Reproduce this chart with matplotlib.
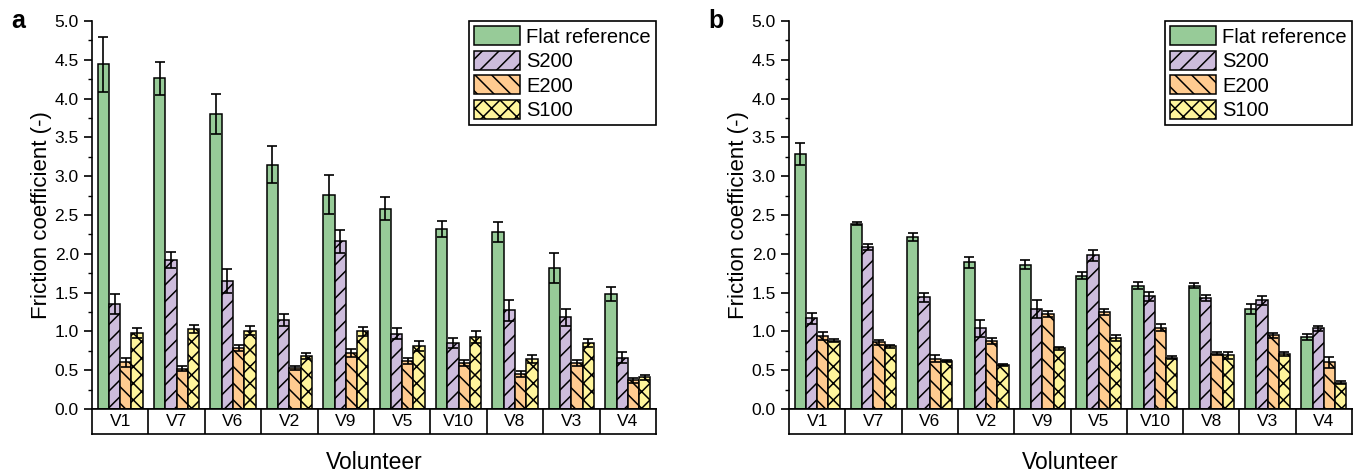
import matplotlib.pyplot as plt
import numpy as np

plt.rcParams["font.family"] = ["Liberation Sans", "DejaVu Sans"]
plt.rcParams["hatch.linewidth"] = 1.1

volunteers = ["V1", "V7", "V6", "V2", "V9", "V5", "V10", "V8", "V3", "V4"]
series = ["Flat reference", "S200", "E200", "S100"]
colors = ["#97cb98", "#cdbcdc", "#ffcb90", "#fff59c"]
hatches = ["", "//", "\\\\", "xx"]

# panel a
a_flat = [4.44, 4.26, 3.80, 3.15, 2.76, 2.58, 2.32, 2.28, 1.82, 1.48]
a_flat_err = [0.35, 0.21, 0.26, 0.24, 0.25, 0.15, 0.10, 0.13, 0.19, 0.09]
a_s200 = [1.35, 1.92, 1.65, 1.15, 2.16, 0.97, 0.85, 1.27, 1.18, 0.66]
a_s200_err = [0.13, 0.10, 0.16, 0.08, 0.15, 0.07, 0.07, 0.14, 0.11, 0.07]
a_e200 = [0.60, 0.52, 0.79, 0.53, 0.72, 0.62, 0.59, 0.45, 0.59, 0.37]
a_e200_err = [0.06, 0.03, 0.04, 0.03, 0.05, 0.04, 0.04, 0.04, 0.04, 0.03]
a_s100 = [0.98, 1.03, 1.01, 0.68, 1.00, 0.81, 0.93, 0.64, 0.85, 0.41]
a_s100_err = [0.07, 0.05, 0.06, 0.04, 0.06, 0.06, 0.08, 0.05, 0.05, 0.03]

# panel b
b_flat = [3.29, 2.39, 2.22, 1.89, 1.86, 1.72, 1.59, 1.59, 1.29, 0.93]
b_flat_err = [0.14, 0.02, 0.05, 0.07, 0.06, 0.05, 0.05, 0.03, 0.06, 0.04]
b_s200 = [1.17, 2.09, 1.44, 1.04, 1.29, 1.98, 1.45, 1.43, 1.40, 1.04]
b_s200_err = [0.07, 0.04, 0.06, 0.11, 0.12, 0.07, 0.06, 0.04, 0.06, 0.03]
b_e200 = [0.94, 0.86, 0.65, 0.88, 1.22, 1.25, 1.05, 0.71, 0.95, 0.60]
b_e200_err = [0.05, 0.03, 0.04, 0.04, 0.04, 0.04, 0.05, 0.02, 0.03, 0.07]
b_s100 = [0.88, 0.81, 0.62, 0.57, 0.78, 0.92, 0.66, 0.69, 0.71, 0.34]
b_s100_err = [0.02, 0.02, 0.01, 0.01, 0.02, 0.04, 0.02, 0.05, 0.03, 0.02]

fig = plt.figure(figsize=(13.63, 4.72), dpi=100)

W, H = 1363, 472


def panel(left, right, letter, vals, errs):
    ax = fig.add_axes([left / W, 1 - 409 / H, (right - left) / W, (409 - 21) / H])
    band = fig.add_axes([left / W, 1 - 434 / H, (right - left) / W, 25 / H])
    x = np.arange(len(volunteers))
    width = 0.2
    for i in range(4):
        ax.bar(x - 0.3 + i * width, vals[i], width, color=colors[i], hatch=hatches[i],
               edgecolor="black", linewidth=1.1, label=series[i], zorder=2)
        ax.errorbar(x - 0.3 + i * width, vals[i], yerr=errs[i], fmt="none",
                    ecolor="black", elinewidth=1.2, capsize=3.3, capthick=1.2, zorder=3)
    ax.set_xlim(-0.5, len(volunteers) - 0.5)
    ax.set_ylim(0, 5.0)
    ax.set_yticks(np.arange(0, 5.01, 0.5))
    ax.set_yticks(np.arange(0.25, 5.0, 0.5), minor=True)
    ax.tick_params(axis="y", which="major", length=6, width=1.2, labelsize=12.5, direction="out")
    ax.tick_params(axis="y", which="minor", length=3, width=1.0, direction="out")
    ax.set_xticks([])
    ax.spines["top"].set_visible(False)
    ax.spines["right"].set_visible(False)
    ax.spines["bottom"].set_linewidth(1.2)
    ax.spines["left"].set_linewidth(1.2)
    ax.set_ylabel("Friction coefficient (-)", fontsize=16, labelpad=2)
    ax.legend(loc="upper right", bbox_to_anchor=(1.0, 1.0), borderaxespad=0,
              fontsize=14.5, fancybox=False, edgecolor="black", framealpha=1,
              handlelength=2.3, handleheight=1.1, handletextpad=0.3,
              labelspacing=0.2, borderpad=0.25)
    ax.get_legend().get_frame().set_linewidth(1.2)

    band.set_xlim(-0.5, len(volunteers) - 0.5)
    band.set_ylim(0, 1)
    band.set_xticks([])
    band.set_yticks([])
    for s in band.spines.values():
        s.set_linewidth(1.2)
    for k in range(1, len(volunteers)):
        band.axvline(k - 0.5, color="black", linewidth=1.2)
    for k, v in enumerate(volunteers):
        band.text(k, 0.5, v, ha="center", va="center", fontsize=12.5)
    band.set_xlabel("Volunteer", fontsize=16.5, labelpad=12)
    fig.text(left / W - 0.059, 0.955, letter, fontsize=18, fontweight="bold", va="center")
    return ax


panel(92, 656, "a", [a_flat, a_s200, a_e200, a_s100],
      [a_flat_err, a_s200_err, a_e200_err, a_s100_err])
panel(789, 1352, "b", [b_flat, b_s200, b_e200, b_s100],
      [b_flat_err, b_s200_err, b_e200_err, b_s100_err])

fig.savefig("out.png", dpi=100)
